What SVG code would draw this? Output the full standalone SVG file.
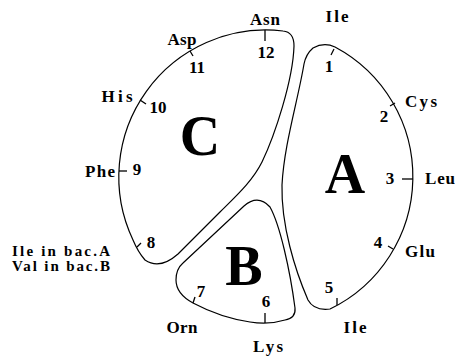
<svg xmlns="http://www.w3.org/2000/svg" width="455" height="356" viewBox="0 0 455 356">
<style>
.o{fill:none;stroke:#000;stroke-width:1.2;stroke-linejoin:round}
.t{stroke:#000;stroke-width:1.3}
text{font-family:"Liberation Serif","Times New Roman",serif;font-weight:bold;fill:#000}
.l{font-size:17px;text-anchor:middle}
.s{font-size:15px;text-anchor:middle}
.big{font-size:56px;text-anchor:middle}
</style>
<rect width="455" height="356" fill="#fff"/>
<g id="nodeC">
<path class="o" d="M133,240 A147,147 0 0 1 283,31 Q294,32 294,46 C293,80 275,135 262,162 C252,182 235,197 220,212 L178,254 Q160,270 145,260 Q138,252 133,240 Z"/>
<text class="big" x="200" y="155">C</text>
</g>
<g id="nodeA">
<path class="o" d="M330,309 A147,147 0 0 0 335,47 Q324,42 313,48 Q306,54 304,64 C298,100 284,145 282,185 C281,225 295,270 308,300 Q314,311 330,309 Z"/>
<text class="big" x="345" y="193">A</text>
</g>
<g id="nodeB">
<path class="o" d="M183,263 L244,206 Q258,194 270,207 C280,225 290,270 295,308 Q296,318 285,320 C272,324 262,324 250,322 C230,319 210,312 193,303 C182,297 176,290 176,280 Q176,269 183,263 Z"/>
<text class="big" x="244" y="285">B</text>
</g>
<g id="connectors">
<line class="t" x1="265" y1="30" x2="265" y2="41"/>
<line class="t" x1="190" y1="51" x2="193" y2="56"/>
<line class="t" x1="140" y1="100" x2="146" y2="104"/>
<line class="t" x1="119" y1="171" x2="127" y2="171"/>
<line class="t" x1="137" y1="247" x2="141" y2="243"/>
<line class="t" x1="334" y1="49" x2="331" y2="55"/>
<line class="t" x1="395" y1="103" x2="390" y2="106"/>
<line class="t" x1="413" y1="179" x2="402" y2="179"/>
<line class="t" x1="393" y1="249" x2="388" y2="246"/>
<line class="t" x1="337" y1="305" x2="337" y2="298"/>
<line class="t" x1="265" y1="323" x2="265" y2="313"/>
<line class="t" x1="193" y1="303" x2="195" y2="297"/>
</g>
<g id="labels">
<text class="l" x="265" y="25" textLength="30" lengthAdjust="spacing">Asn</text>
<text class="l" x="266" y="58">12</text>
<text class="l" x="182" y="45" textLength="29" lengthAdjust="spacing">Asp</text>
<text class="l" x="197" y="73">11</text>
<text class="l" x="337" y="22" textLength="23" lengthAdjust="spacing">Ile</text>
<text class="l" x="329" y="72">1</text>
<text class="l" x="384" y="122">2</text>
<text class="l" x="421" y="107" textLength="32" lengthAdjust="spacing">Cys</text>
<text class="l" x="390" y="184">3</text>
<text class="l" x="440" y="184" textLength="30" lengthAdjust="spacing">Leu</text>
<text class="l" x="378" y="248">4</text>
<text class="l" x="420" y="257" textLength="30" lengthAdjust="spacing">Glu</text>
<text class="l" x="329" y="293">5</text>
<text class="l" x="355" y="333" textLength="23" lengthAdjust="spacing">Ile</text>
<text class="l" x="117" y="102" textLength="31" lengthAdjust="spacing">His</text>
<text class="l" x="158" y="113">10</text>
<text class="l" x="100" y="177" textLength="30" lengthAdjust="spacing">Phe</text>
<text class="l" x="137" y="175">9</text>
<text class="l" x="151" y="248">8</text>
<text class="s" x="61" y="256" textLength="98" lengthAdjust="spacing">Ile in bac.A</text>
<text class="s" x="61" y="271" textLength="98" lengthAdjust="spacing">Val in bac.B</text>
<text class="l" x="201" y="297">7</text>
<text class="l" x="266" y="307">6</text>
<text class="l" x="182" y="333" textLength="31" lengthAdjust="spacing">Orn</text>
<text class="l" x="268" y="352" textLength="30" lengthAdjust="spacing">Lys</text>
</g>
</svg>
